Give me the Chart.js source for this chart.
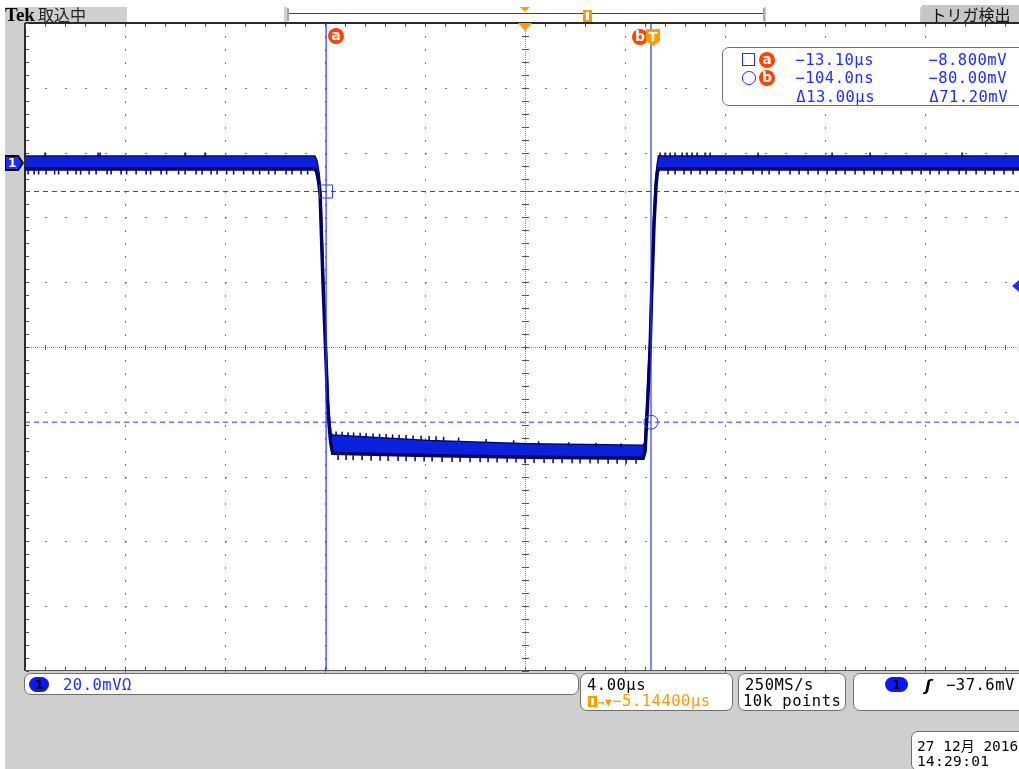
<!DOCTYPE html>
<html>
<head>
<meta charset="utf-8">
<title>Tek 取込中</title>
<script src="https://cdn.jsdelivr.net/npm/chart.js@4.4.1/dist/chart.umd.min.js"></script>
<style>
  html, body { margin: 0; padding: 0; }
  body { width: 1019px; height: 769px; overflow: hidden; position: relative; background: #fff;
         font-family: "DejaVu Sans Mono", monospace; font-size: 15.5px; letter-spacing: 0.5px; }
  #bezel { position: absolute; left: 5px; top: 7px; width: 1014px; height: 762px; background: #cfcfcf; }
  #scope { position: absolute; left: 0; top: 0; }
  .abs { position: absolute; white-space: nowrap; line-height: 16px; }
  .box { position: absolute; background: #fff; border: 1px solid #6e6e6e; border-radius: 7px; box-sizing: border-box; }
  .blue { color: #1f2dff; }
  .orange { color: #ff9900; }
  .badge { position: absolute; width: 16px; height: 16px; border-radius: 50%; background: #ff4200; color: #fff;
           font: bold 14px "DejaVu Sans", sans-serif; text-align: center; line-height: 15px; letter-spacing: 0; }
  .shield { position: absolute; width: 14px; height: 17px; background: #ff9d00; color: #fff;
            font: bold 13px "DejaVu Sans", sans-serif; text-align: center; line-height: 15px; letter-spacing: 0;
            clip-path: polygon(0 0, 100% 0, 100% 70%, 50% 100%, 0 70%); }
  .chip { position: absolute; height: 15px; border-radius: 8px; background: #0a18ff; color: #000; letter-spacing: 0;
          font: bold 13px "DejaVu Sans", sans-serif; text-align: center; line-height: 15px; }
  .seg { position: absolute; top: 7px; height: 15px; background: #fff; }
  .jp { font-family: "Noto Sans CJK JP", sans-serif; letter-spacing: 0; }
</style>
</head>
<body>
<div id="bezel"></div>
<canvas id="scope" width="1050" height="769"></canvas>

<!-- status bar -->
<div class="abs" style="left:5px;top:3px;line-height:22px;letter-spacing:0;">
  <span style="font:bold 19px 'Liberation Serif',serif;color:#000;">Tek</span><span class="jp" style="font-size:16px;color:#222;margin-left:3px;">取込中</span>
</div>
<div class="seg" style="left:127px;width:157px;"></div>
<div class="seg" style="left:287px;width:477px;"></div>
<div class="abs" style="left:287px;top:8px;width:2px;height:13px;background:#a8a8a8;"></div>
<div class="abs" style="left:763px;top:8px;width:2px;height:13px;background:#a8a8a8;"></div>
<div class="abs" style="left:289px;top:13px;width:474px;height:1px;background:#1f2dff;"></div>
<div class="abs" style="left:520px;top:7px;width:0;height:0;border-left:5px solid transparent;border-right:5px solid transparent;border-top:5px solid #ff9d00;"></div>
<div class="abs" style="left:583px;top:10px;width:9px;height:12px;background:#ff9d00;"></div>
<div class="abs" style="left:586px;top:12px;width:3px;height:8px;background:#fff;"></div>
<div class="seg" style="left:766px;width:154px;"></div>
<div class="abs jp" style="left:922px;top:5px;width:97px;height:17px;background:#c6c6c6;color:#111;font-size:16px;line-height:18px;text-align:center;">トリガ検出</div>

<!-- trigger position and level markers -->
<div class="abs" style="left:518px;top:23px;width:0;height:0;border-left:7px solid transparent;border-right:7px solid transparent;border-top:8px solid #ff9d00;"></div>
<div class="abs" style="left:1012px;top:280px;width:0;height:0;border-top:6px solid transparent;border-bottom:6px solid transparent;border-right:7px solid #1f2dff;"></div>
<div class="abs" style="left:5px;top:155px;width:19px;height:16px;background:#000;clip-path:polygon(0 0,72% 0,100% 50%,72% 100%,0 100%);"></div>
<div class="abs" style="left:6px;top:157px;width:16px;height:12px;background:#1f2dff;clip-path:polygon(0 0,72% 0,100% 50%,72% 100%,0 100%);color:#fff;font:bold 12px 'DejaVu Sans',sans-serif;line-height:12px;text-indent:2px;">1</div>

<!-- cursor tags -->
<div class="badge" style="left:328px;top:28px;">a</div>
<div class="badge" style="left:632px;top:29px;">b</div>
<div class="shield" style="left:646px;top:29px;">T</div>

<!-- cursor readout -->
<div class="box" style="left:722px;top:47px;width:320px;height:59px;"></div>
<div class="abs" style="left:742px;top:53px;width:13px;height:13px;border:1px solid #1f2dff;box-sizing:border-box;"></div>
<div class="abs" style="left:742px;top:71px;width:14px;height:14px;border:1px solid #1f2dff;border-radius:50%;box-sizing:border-box;"></div>
<div class="badge" style="left:759px;top:52px;">a</div>
<div class="badge" style="left:759px;top:70px;">b</div>
<div class="abs blue" id="ta" style="left:764px;top:52px;width:110px;text-align:right;"></div>
<div class="abs blue" id="va" style="left:897px;top:52px;width:110px;text-align:right;"></div>
<div class="abs blue" id="tb" style="left:764px;top:70px;width:110px;text-align:right;"></div>
<div class="abs blue" id="vb" style="left:897px;top:70px;width:110px;text-align:right;"></div>
<div class="abs blue" id="dt" style="left:765px;top:89px;width:110px;text-align:right;"></div>
<div class="abs blue" id="dv" style="left:898px;top:89px;width:110px;text-align:right;"></div>

<!-- bottom readouts -->
<div class="box" style="left:24px;top:673px;width:555px;height:22px;"></div>
<div class="chip" style="left:29px;top:677px;width:20px;">1</div>
<div class="abs blue" id="vdiv" style="left:63px;top:677px;"></div>

<div class="box" style="left:580px;top:673px;width:153px;height:38px;"></div>
<div class="abs" id="hdiv" style="left:587px;top:677px;color:#000;"></div>
<div class="abs" style="left:588px;top:696px;width:9px;height:11px;background:#ff9d00;"></div>
<div class="abs" style="left:591px;top:698px;width:3px;height:7px;background:#fff;"></div>
<div class="abs orange" id="hpos" style="left:598px;top:693px;"></div>

<div class="box" style="left:738px;top:673px;width:108px;height:38px;"></div>
<div class="abs" style="left:745px;top:677px;color:#000;">250MS/s</div>
<div class="abs" style="left:743px;top:693px;color:#000;">10k points</div>

<div class="box" style="left:853px;top:673px;width:200px;height:38px;"></div>
<div class="chip" style="left:885px;top:677px;width:23px;">1</div>
<div class="abs" style="left:925px;top:676px;color:#000;font:italic bold 16px 'DejaVu Sans',sans-serif;">ʃ</div>
<div class="abs" id="tlev" style="left:946px;top:677px;color:#000;"></div>

<div class="box" style="left:911px;top:731px;width:120px;height:40px;"></div>
<div class="abs" style="left:917px;top:737px;color:#000;font-size:14.5px;letter-spacing:0;">27 12<span class="jp" style="font-size:14px;">月</span> 2016</div>
<div class="abs" style="left:917px;top:753px;color:#000;font-size:14.5px;letter-spacing:0.3px;">14:29:01</div>

<script>
// horizontal / vertical settings (µs, mV)
const timePerDiv = 4;
const voltsPerDiv = 20;
const timeMin = -25.144, timeMax = 14.856;
const voltMin = -156.8, voltMax = 43.2;
const triggerLevel = -37.6;

// trace envelope: top and bottom of the persistence band
const traceTime  = [-25.144, -13.56, -13.48, -13.40, -13.34, -13.22, -13.12, -13.04, -12.98, -12.92, -12.84, -9.00, -5.00, -0.42, -0.34, -0.25, -0.14, -0.08, 0.02, 0.10, 0.15, 0.21, 14.856];
const traceUpper = [2.0, 2.0, 0.6, -3.2, -8.0, -36.2, -55.8, -72.2, -79.2, -83.6, -84.1, -85.8, -86.8, -87.3, -86.5, -74.2, -55.7, -39.2, -16.6, -5.2, -1.2, 2.0, 2.0];
const traceLower = [-1.9, -1.9, -2.6, -5.8, -9.6, -37.8, -57.4, -73.8, -80.8, -86.0, -89.6, -90.3, -90.8, -91.1, -89.0, -75.8, -57.3, -40.8, -18.2, -6.8, -2.8, -1.9, -1.9];

// noise spikes sticking out of the band
const highDownSpikeTimes = [-25.02, -24.78, -24.60, -24.30, -23.96, -23.80, -23.44, -23.10, -22.92, -22.58, -22.30, -21.86, -21.70, -21.30, -21.08, -20.70, -20.30, -20.12, -19.70, -19.48, -19.00, -18.74, -18.30, -18.06, -17.70, -17.46, -17.08, -16.80, -16.40, -16.02, -15.76, -15.40, -15.14, -14.70, -14.46, -14.10, -13.84,
                            0.58, 0.86, 1.22, 1.50, 1.86, 2.14, 2.50, 2.90, 3.22, 3.54, 3.98, 4.34, 4.62, 5.02, 5.46, 5.82, 6.18, 6.58, 6.94, 7.30, 7.66, 8.06, 8.42, 8.82, 9.14, 9.58, 9.90, 10.34, 10.70, 11.06, 11.42, 11.78, 12.22, 12.50, 12.90, 13.26, 13.62, 14.02, 14.38];
const highUpSpikeTimes = [-24.34, -22.22, -22.14, -18.74, -17.94, 0.26, 0.46, 0.66, 0.86, 1.14, 1.34, 1.54, 1.74, 2.06, 2.26, 4.18, 7.14, 8.66, 12.34];
const lowDownSpikeTimes = [-12.62, -12.30, -12.02, -11.66, -11.30, -10.94, -10.62, -10.22, -9.90, -9.54, -9.18, -8.86, -8.46, -8.06, -7.74, -7.34, -6.94, -6.62, -6.26, -5.86, -5.50, -5.14, -4.78, -4.38, -4.02, -3.66, -3.26, -2.94, -2.54, -2.22, -1.82, -1.46, -1.10, -0.70];
const lowDownSpikeVolts = [-90.9, -90.9, -91.0, -91.0, -91.1, -91.1, -91.2, -91.2, -91.3, -91.3, -91.4, -91.4, -91.5, -91.5, -91.5, -91.6, -91.6, -91.6, -91.7, -91.7, -91.7, -91.8, -91.8, -91.8, -91.9, -91.9, -91.9, -92.0, -92.0, -92.0, -92.1, -92.1, -92.1, -92.1];
const lowUpSpikeTimes = [-12.70, -12.46, -12.22, -12.00, -11.74, -11.50, -11.22, -10.96, -10.70, -10.44, -10.18, -9.90, -9.62, -9.30, -8.98, -8.70, -8.40, -7.80, -6.70, -5.60, -4.60, -3.40, -2.30, -1.30];
const lowUpSpikeVolts = [-83.5, -83.6, -83.7, -83.8, -83.9, -84.0, -84.1, -84.2, -84.3, -84.4, -84.5, -84.6, -84.7, -84.8, -84.9, -85.0, -85.1, -85.4, -85.8, -86.2, -86.5, -86.8, -87.0, -87.2];

// cursors a and b
const cursorTimes = [-13.10, -0.104];
const cursorVolts = [-8.8, -80.0];

const navy = '#00006a';
const cursorBlue = '#2a38ff';

function fmt4(v) { return v.toPrecision(4).replace('-', '\u2212'); }
function fmtTime(us) { return Math.abs(us) < 1 ? fmt4(us * 1000) + 'ns' : fmt4(us) + 'µs'; }

document.getElementById('ta').textContent = fmtTime(cursorTimes[0]);
document.getElementById('tb').textContent = fmtTime(cursorTimes[1]);
document.getElementById('va').textContent = fmt4(cursorVolts[0]) + 'mV';
document.getElementById('vb').textContent = fmt4(cursorVolts[1]) + 'mV';
document.getElementById('dt').textContent = '\u0394' + fmt4(Math.abs(cursorTimes[1] - cursorTimes[0])) + 'µs';
document.getElementById('dv').textContent = '\u0394' + fmt4(Math.abs(cursorVolts[1] - cursorVolts[0])) + 'mV';
document.getElementById('vdiv').textContent = voltsPerDiv.toFixed(1) + 'mVΩ';
document.getElementById('hdiv').textContent = timePerDiv.toFixed(2) + 'µs';
document.getElementById('hpos').innerHTML = '<span style="font-size:11px">→▼</span>' + ((timeMin + timeMax) / 2).toFixed(5).replace('-', '\u2212') + 'µs';
document.getElementById('tlev').textContent = triggerLevel.toFixed(1).replace('-', '\u2212') + 'mV';

const pts = (ts, vs) => ts.map((t, i) => ({ x: t, y: Array.isArray(vs) ? vs[i] : vs }));

// white screen plus Tek style graticule (dots on minor steps, fine centre cross)
const graticule = {
  id: 'graticule',
  beforeDraw(chart) {
    const { ctx, chartArea: a } = chart;
    ctx.save();
    ctx.fillStyle = '#fff';
    ctx.fillRect(a.left, a.top, a.right - a.left, a.bottom - a.top);
    ctx.restore();
  },
  beforeDatasetsDraw(chart) {
    const { ctx, chartArea: a, scales: { x, y } } = chart;
    const xs = [], ys = [];
    for (let i = 0; i <= 50; i++) xs.push(Math.round(x.getPixelForValue(timeMin + i * timePerDiv / 5)));
    for (let j = 0; j <= 50; j++) ys.push(Math.round(y.getPixelForValue(voltMax - j * voltsPerDiv / 5)));
    ctx.save();
    ctx.fillStyle = '#7a7a7a';
    for (let i = 5; i < 50; i += 5) {
      if (i === 25) continue;
      ys.forEach(py => ctx.fillRect(xs[i], py, 1, 2));
    }
    for (let j = 5; j < 50; j += 5) {
      if (j === 25) continue;
      xs.forEach(px => ctx.fillRect(px, ys[j], 2, 1));
    }
    const cx = xs[25], cy = ys[25];
    ctx.fillStyle = '#8a8a8a';
    for (let px = a.left; px < a.right; px += 2) ctx.fillRect(px, cy, 1, 1);
    for (let py = a.top; py < a.bottom; py += 2) ctx.fillRect(cx, py, 1, 1);
    ctx.fillStyle = '#555';
    xs.forEach(px => ctx.fillRect(px, cy - 2, 1, 5));
    ys.forEach(py => ctx.fillRect(cx - 3, py, 7, 1));
    // frame with minor ticks
    ctx.fillStyle = '#2a2a2a';
    ctx.fillRect(a.left, a.top - 1, a.right - a.left, 2);
    ctx.fillRect(a.left - 1, a.top, 2, a.bottom - a.top);
    ctx.fillStyle = '#555';
    ctx.fillRect(a.left, a.bottom - 1, a.right - a.left, 1);
    xs.forEach(px => { ctx.fillRect(px, a.top + 1, 1, 3); ctx.fillRect(px, a.bottom - 4, 1, 3); });
    ys.forEach(py => ctx.fillRect(a.left + 1, py, 3, 1));
    ctx.restore();
  }
};

new Chart(document.getElementById('scope'), {
  type: 'line',
  data: {
    datasets: [
      { data: [{ x: timeMin, y: cursorVolts[0] }, { x: timeMax, y: cursorVolts[0] }],
        borderColor: cursorBlue, borderWidth: 1, borderDash: [5, 4], pointRadius: 0, order: 6 },
      { data: [{ x: timeMin, y: cursorVolts[1] }, { x: timeMax, y: cursorVolts[1] }],
        borderColor: cursorBlue, borderWidth: 1, borderDash: [5, 4], pointRadius: 0, order: 6 },
      { data: pts(traceTime, traceUpper), borderColor: navy, borderWidth: 2.5, pointRadius: 0, order: 5 },
      { data: pts(traceTime, traceLower), borderColor: navy, borderWidth: 3.5, pointRadius: 0,
        fill: '-1', backgroundColor: '#0a22dc', order: 4 },
      { data: pts(highDownSpikeTimes, -2.8), showLine: false, pointStyle: 'line', pointRotation: 90,
        pointRadius: 2.5, pointBorderColor: navy, pointBorderWidth: 1.5, order: 3 },
      { data: pts(highUpSpikeTimes, 2.6), showLine: false, pointStyle: 'line', pointRotation: 90,
        pointRadius: 2, pointBorderColor: navy, pointBorderWidth: 1.5, order: 3 },
      { data: pts(lowDownSpikeTimes, lowDownSpikeVolts), showLine: false, pointStyle: 'line', pointRotation: 90,
        pointRadius: 2.5, pointBorderColor: navy, pointBorderWidth: 1.5, order: 3 },
      { data: pts(lowUpSpikeTimes, lowUpSpikeVolts), showLine: false, pointStyle: 'line', pointRotation: 90,
        pointRadius: 2, pointBorderColor: navy, pointBorderWidth: 1.5, order: 3 },
      { data: [{ x: cursorTimes[0], y: voltMin }, { x: cursorTimes[0], y: voltMax }],
        borderColor: cursorBlue, borderWidth: 1.2, pointRadius: 0, order: 1 },
      { data: [{ x: cursorTimes[1], y: voltMin }, { x: cursorTimes[1], y: voltMax }],
        borderColor: cursorBlue, borderWidth: 1.2, pointRadius: 0, order: 1 },
      { data: [{ x: cursorTimes[0], y: cursorVolts[0] }], showLine: false, pointStyle: 'rect', pointRadius: 9.2,
        pointBackgroundColor: 'rgba(0,0,0,0)', pointBorderColor: cursorBlue, pointBorderWidth: 1, order: 0 },
      { data: [{ x: cursorTimes[1], y: cursorVolts[1] }], showLine: false, pointStyle: 'circle', pointRadius: 7,
        pointBackgroundColor: 'rgba(0,0,0,0)', pointBorderColor: cursorBlue, pointBorderWidth: 1, order: 0 }
    ]
  },
  options: {
    responsive: false,
    animation: false,
    layout: { padding: { left: 25, top: 23, right: 25, bottom: 98 } },
    plugins: { legend: { display: false }, tooltip: { enabled: false } },
    elements: { line: { tension: 0 } },
    scales: {
      x: { type: 'linear', min: timeMin, max: timeMax, display: false },
      y: { type: 'linear', min: voltMin, max: voltMax, display: false }
    }
  },
  plugins: [graticule]
});
</script>
</body>
</html>
